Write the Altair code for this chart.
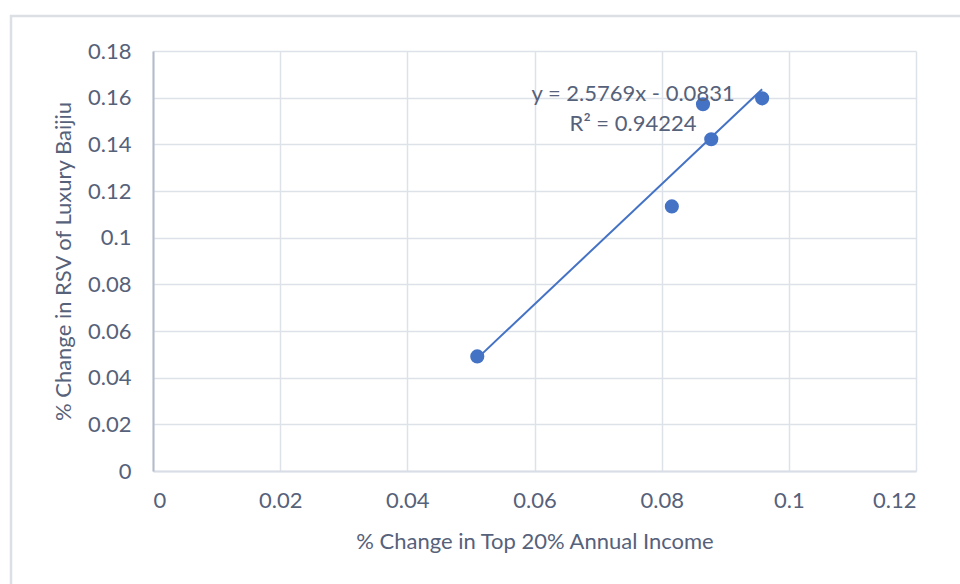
import altair as alt
import pandas as pd

income_change = [0.0510, 0.0816, 0.0865, 0.0878, 0.0958]
rsv_change = [0.0491, 0.1134, 0.1572, 0.1422, 0.1597]

eq_text = ["y = 2.5769x - 0.0831", "R² = 0.94224"]
eq_x = [0.0755, 0.0755]
eq_y = [0.1614, 0.1486]

x_ticks = [0, 0.02, 0.04, 0.06, 0.08, 0.1, 0.12]
y_ticks = [0, 0.02, 0.04, 0.06, 0.08, 0.1, 0.12, 0.14, 0.16, 0.18]

df = pd.DataFrame({"x": income_change, "y": rsv_change})
ann = pd.DataFrame({"x": eq_x, "y": eq_y, "t": eq_text})
frame = pd.DataFrame({"k": [0]})

FONT = "Lato"
TXT = "#56617a"
BLUE = "#4472C4"
FS = 22

xs = alt.Scale(domain=[0, 0.12], nice=False, zero=True)
ys = alt.Scale(domain=[0, 0.18], nice=False, zero=True)

xaxis = alt.Axis(values=x_ticks, title="% Change in Top 20% Annual Income",
                 labelExpr="format(datum.value, '~g')",
                 grid=True, ticks=False, labelPadding=19, titlePadding=20,
                 domainColor="#d9dde6", domainWidth=2)
yaxis = alt.Axis(values=y_ticks, title="% Change in RSV of Luxury Baijiu",
                 labelExpr="format(datum.value, '~g')",
                 grid=True, ticks=False, labelPadding=22, titlePadding=12,
                 domainColor="#b3bccb", domainWidth=2)

border = alt.Chart(frame).mark_rect(fill=None, fillOpacity=0, stroke="#dcdfe4", strokeWidth=2.5, clip=False).encode(
    x=alt.value(-142), x2=alt.value(820), y=alt.value(-35), y2=alt.value(560)
)

points = alt.Chart(df).mark_point(filled=True, size=200, color=BLUE, opacity=1).encode(
    x=alt.X("x:Q", scale=xs, axis=xaxis),
    y=alt.Y("y:Q", scale=ys, axis=yaxis),
)

trend = alt.Chart(df).transform_regression("x", "y", method="linear").mark_line(
    color=BLUE, strokeWidth=2
).encode(x=alt.X("x:Q", scale=xs), y=alt.Y("y:Q", scale=ys))

label = alt.Chart(ann).mark_text(font=FONT, fontSize=FS, color=TXT, align="center", baseline="middle").encode(
    x=alt.X("x:Q", scale=xs), y=alt.Y("y:Q", scale=ys), text="t:N"
)

chart = alt.layer(border, trend, points, label).properties(
    width=763, height=420,
    autosize=alt.AutoSizeParams(type="none"),
    padding={"left": 153, "top": 51, "right": 44, "bottom": 113},
    background="white",
).configure_view(stroke=None).configure_axis(
    labelFont=FONT, titleFont=FONT, labelFontSize=FS, titleFontSize=FS,
    labelColor=TXT, titleColor=TXT, titleFontWeight="normal",
    gridColor="#dde1e8", gridWidth=1.5,
)

chart.save("out.html", embed_options={"renderer": "svg", "actions": False})
